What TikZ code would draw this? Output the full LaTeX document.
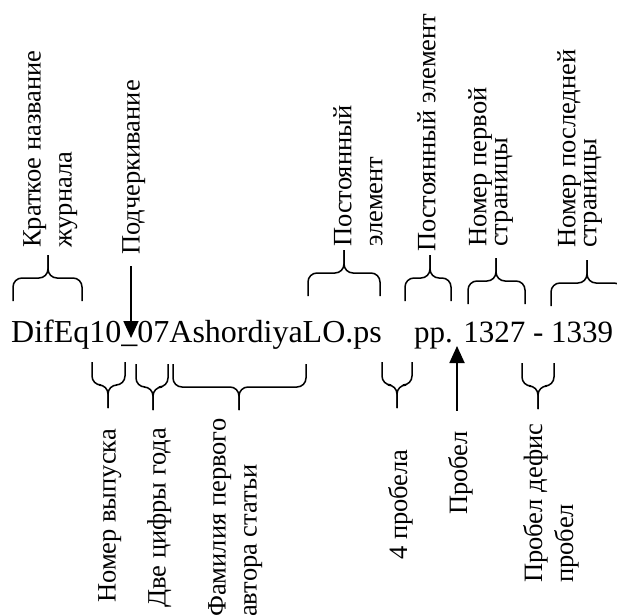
\documentclass[tikz,border=0pt]{standalone}
\usepackage{fontspec}
\setmainfont{Liberation Serif}
\usetikzlibrary{arrows.meta}
\tikzset{
  lbl/.style={rotate=90, anchor=north west, inner sep=0pt, align=left,
    font=\fontsize{26.5}{#1}\selectfont},
  lbl/.default=31,
  main/.style={anchor=base west, inner sep=0pt, font=\fontsize{#1}{38}\selectfont},
  brc/.style={line width=1.5pt, rounded corners=9pt},
  arr/.style={line width=1.8pt, -{Triangle[length=17pt,width=15pt]}}
}
\newcommand\tbrace[4]{%
  \draw[brc] (#1,#3) -- (#1,#3-23) -- (#4,#3-23) -- (#4,#3-46);
  \draw[brc] (#2,#3) -- (#2,#3-23) -- (#4,#3-23) -- (#4,#3-46);}
\newcommand\bbrace[4]{%
  \draw[brc] (#1,#3) -- (#1,#3+23) -- (#4,#3+23) -- (#4,#3+46);
  \draw[brc] (#2,#3) -- (#2,#3+23) -- (#4,#3+23) -- (#4,#3+46);}
\begin{document}
\begin{tikzpicture}[x=1pt,y=-1pt]
\useasboundingbox (0,0) rectangle (617,615);
\node[main=32] (fname) at (11,342) {DifEq10\_07AshordiyaLO.ps};
\node[main=31] (pages) at (414,342) {pp. 1327 - 1339};
% upper labels
\node[lbl] (journal) at (23,248) {Краткое название\\журнала};
\node[lbl] (podch) at (122,255) {Подчеркивание};
\node[lbl] (const1) at (333,247) {Постоянный\\элемент};
\node[lbl] (const2) at (417,252) {Постоянный элемент};
\node[lbl=21] (first) at (468,247) {Номер первой\\страницы};
\node[lbl=21] (last) at (557,248) {Номер последней\\страницы};
% lower labels
\node[lbl] (issue) at (98,603) {Номер выпуска};
\node[lbl] (year) at (147,608) {Две цифры года};
\node[lbl] (author) at (208,617) {Фамилия первого\\автора статьи};
\node[lbl] (spaces) at (388,560) {4 пробела};
\node[lbl] (probel) at (448,515) {Пробел};
\node[lbl] (dash) at (523,583) {Пробел дефис\\пробел};
% braces
\tbrace{13}{82}{301}{48}
\tbrace{308}{380}{296}{344}
\tbrace{405}{451}{301}{430}
\tbrace{468}{525}{304}{496}
\tbrace{551}{623}{306}{587}
\bbrace{92}{125}{362}{108}
\bbrace{136}{168}{364}{153}
\bbrace{173}{306}{364}{239}
\bbrace{382}{412}{362}{397}
\bbrace{522}{554}{363}{538}
% arrows
\coordinate (usc) at (131,338);
\coordinate (gap) at (457,346);
\draw[arr, shorten <=11pt] (usc |- podch.west) -- (usc);
\draw[arr, shorten <=20pt] (gap |- probel.east) -- (gap);
\end{tikzpicture}
\end{document}
